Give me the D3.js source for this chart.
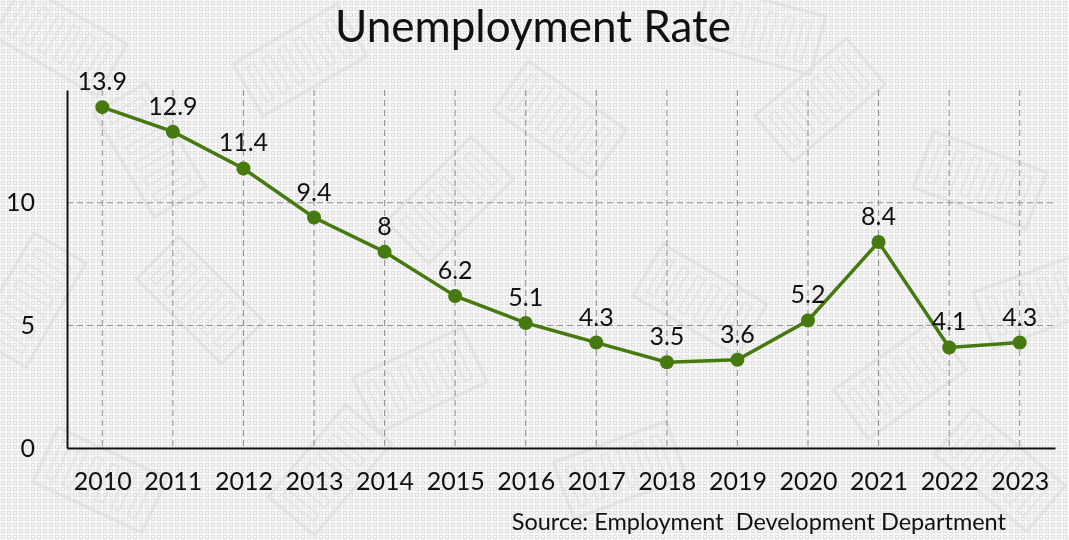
<!DOCTYPE html>
<html><head><meta charset="utf-8">
<script src="https://cdn.jsdelivr.net/npm/d3@7"></script>
<style>html,body{margin:0;padding:0;background:#fff;}svg{display:block;font-family:Lato,"Open Sans",sans-serif;}</style>
</head><body>
<script>
const years = ["2010","2011","2012","2013","2014","2015","2016","2017","2018","2019","2020","2021","2022","2023"];
const rates = [13.9,12.9,11.4,9.4,8,6.2,5.1,4.3,3.5,3.6,5.2,8.4,4.1,4.3];
const yTicks = [0,5,10];
const title = "Unemployment Rate";
const source = "Source: Employment  Development Department";

const W=1069,H=540;
const m={left:67,right:14,top:90,bottom:92};
const svg=d3.select("body").append("svg").attr("width",W).attr("height",H);
const defs=svg.append("defs");
const pat=defs.append("pattern").attr("id","tex").attr("width",6).attr("height",6).attr("patternUnits","userSpaceOnUse");
pat.append("rect").attr("width",6).attr("height",6).attr("fill","#f6f6f6");
pat.append("rect").attr("x",1.5).attr("y",1.5).attr("width",3).attr("height",3).attr("fill","none").attr("stroke","#e0e0e0").attr("stroke-width",1);
svg.append("rect").attr("width",W).attr("height",H).attr("fill","url(#tex)");
// faint block motifs
const blocks=svg.append("g").attr("opacity",0.45);
const bl=[[60,40,30],[300,60,-30],[560,120,35],[820,100,-40],[980,180,20],[200,300,45],[420,380,-25],[700,300,30],[900,380,-35],[100,480,25],[620,470,-20],[1000,470,40],[450,200,-45],[150,150,60],[760,30,15],[330,470,-50],[1040,300,-20],[30,300,-60]];
bl.forEach(([x,y,r])=>{
  const g=blocks.append("g").attr("transform",`translate(${x},${y}) rotate(${r})`);
  g.append("rect").attr("x",-60).attr("y",-30).attr("width",120).attr("height",60).attr("fill","none").attr("stroke","#d2d2d2").attr("stroke-width",3);
  for(let i=0;i<6;i++) g.append("rect").attr("x",-50+i*18).attr("y",-20).attr("width",8).attr("height",40).attr("fill","none").attr("stroke","#d8d8d8").attr("stroke-width",2);
});

const x=d3.scalePoint().domain(years).range([m.left,W-m.right]).padding(0.5);
const y=d3.scaleLinear().domain([0,14.6]).range([H-m.bottom,m.top]);

// grid
svg.append("g").selectAll("line").data(years).join("line")
 .attr("x1",d=>x(d)).attr("x2",d=>x(d)).attr("y1",y(14.6)).attr("y2",y(0))
 .attr("stroke","#8f8f8f").attr("stroke-width",1).attr("stroke-dasharray","6,4");
svg.append("g").selectAll("line").data(yTicks.filter(d=>d>0)).join("line")
 .attr("x1",m.left).attr("x2",W-m.right).attr("y1",d=>y(d)).attr("y2",d=>y(d))
 .attr("stroke","#8f8f8f").attr("stroke-width",1).attr("stroke-dasharray","6,4");

// axes
const ya=svg.append("g").attr("transform",`translate(${m.left},0)`).call(d3.axisLeft(y).tickValues(yTicks).tickSize(0).tickPadding(32));
ya.select(".domain").attr("stroke","#111").attr("stroke-width",2);
ya.selectAll("text").attr("font-size",25).attr("fill","#111").attr("font-family","Lato");
const xa=svg.append("g").attr("transform",`translate(0,${y(0)})`).call(d3.axisBottom(x).tickSize(0).tickPadding(24));
xa.select(".domain").attr("stroke","#111").attr("stroke-width",2);
xa.selectAll("text").attr("font-size",25).attr("fill","#111").attr("font-family","Lato");

// line
const data=years.map((d,i)=>({year:d,v:rates[i]}));
svg.append("path").datum(data).attr("fill","none").attr("stroke","#467a10").attr("stroke-width",3.5)
 .attr("d",d3.line().x(d=>x(d.year)).y(d=>y(d.v)));
svg.append("g").selectAll("circle").data(data).join("circle")
 .attr("cx",d=>x(d.year)).attr("cy",d=>y(d.v)).attr("r",7).attr("fill","#467a10");
svg.append("g").selectAll("text").data(data).join("text")
 .attr("x",d=>x(d.year)).attr("y",d=>y(d.v)-17).attr("text-anchor","middle")
 .attr("font-size",25).attr("fill","#111").text(d=>d.v);

svg.append("text").attr("x",533).attr("y",42).attr("text-anchor","middle").attr("font-size",44).attr("fill","#111").text(title);
svg.append("text").attr("x",1006).attr("y",530).attr("text-anchor","end").attr("font-size",23.5).attr("fill","#111")
 .style("white-space","pre").attr("xml:space","preserve").text(source);
</script>
</body></html>
